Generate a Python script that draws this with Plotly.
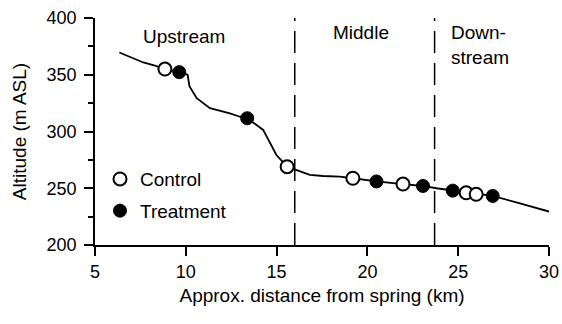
import plotly.graph_objects as go

# River profile (distance km, altitude m ASL)
profile_km = [6.34, 7.66, 8.3, 8.85, 9.64, 10.1, 10.2, 10.6, 11.33, 12.43, 12.98, 13.38,
              14.26, 14.63, 14.99, 15.58, 16.83, 17.56, 18.48, 19.2, 20.5, 21.96, 23.06,
              23.8, 24.7, 25.44, 25.99, 26.9, 28.4, 30.0]
profile_alt = [369.6, 360.8, 358, 355, 352.3, 350, 340, 329.4, 320.6, 316, 313, 311.7,
               301.4, 289.7, 279.3, 269, 261.7, 260.8, 260.2, 258.8, 256, 253.7, 252,
               250, 247.9, 246, 244.7, 243.2, 236.7, 229.5]

control_km = [8.85, 15.58, 19.2, 21.96, 25.44, 25.99]
control_alt = [355, 269, 258.8, 253.7, 246, 244.7]

treatment_km = [9.64, 13.38, 20.5, 23.06, 24.7, 26.9]
treatment_alt = [352.3, 311.7, 256, 252, 247.9, 243.2]

boundaries_km = [16.0, 23.7]
region_labels = ["Upstream", "Middle", "Down-<br>stream"]
region_label_km = [9.9, 19.63, 24.5]
region_label_alt = [384, 387, 376]

x_ticks = [5, 10, 15, 20, 25, 30]
y_ticks = [200, 250, 300, 350, 400]

FONT = "Liberation Sans, Arial, Helvetica, sans-serif"

fig = go.Figure()
fig.add_trace(go.Scatter(x=profile_km, y=profile_alt, mode="lines",
                         line=dict(color="black", width=1.8), showlegend=False,
                         hoverinfo="skip"))
fig.add_trace(go.Scatter(x=control_km, y=control_alt, mode="markers", name="Control",
                         legendgroup="c",
                         marker=dict(size=13, color="white",
                                     line=dict(color="black", width=2))))
fig.add_trace(go.Scatter(x=treatment_km, y=treatment_alt, mode="markers", name="Treatment",
                         legendgroup="t",
                         marker=dict(size=13, color="black",
                                     line=dict(color="black", width=1))))

for b in boundaries_km:
    fig.add_shape(type="line", xref="x", yref="y", x0=b, x1=b, y0=200, y1=400,
                  line=dict(color="black", width=1.5, dash="22px,10px"), layer="below")

for i, (t, xk, ya) in enumerate(zip(region_labels, region_label_km, region_label_alt)):
    fig.add_annotation(x=xk, y=ya, xref="x", yref="y", text=t, showarrow=False,
                       xanchor="left" if i == 2 else "center", yanchor="middle",
                       align="left", font=dict(size=19, color="black", family=FONT))

fig.update_layout(
    width=562, height=324,
    margin=dict(l=95, r=13, t=18, b=79),
    plot_bgcolor="white", paper_bgcolor="white",
    font=dict(family=FONT, size=18, color="black"),
    legend=dict(x=0.011, y=0.374, xanchor="left", yanchor="top",
                bgcolor="rgba(0,0,0,0)", font=dict(size=19),
                traceorder="grouped", tracegroupgap=4),
)
fig.update_xaxes(range=[5, 30], tickvals=x_ticks, showline=True, linecolor="black",
                 linewidth=1.5, ticks="outside", ticklen=9, tickwidth=1.5,
                 tickcolor="black", showgrid=False, zeroline=False, automargin=False,
                 ticklabelstandoff=1,
                 title=dict(text="Approx. distance from spring (km)",
                            font=dict(size=19), standoff=7))
fig.update_yaxes(range=[200, 400], tickvals=y_ticks, showline=True, linecolor="black",
                 linewidth=1.5, ticks="outside", ticklen=9, tickwidth=1.5,
                 tickcolor="black", showgrid=False, zeroline=False, automargin=False,
                 ticklabelstandoff=4,
                 minor=dict(dtick=25, ticks="outside", ticklen=5, tickwidth=1.5,
                            tickcolor="black", showgrid=False),
                 title=dict(text="Altitude (m ASL)", font=dict(size=19), standoff=15))

fig.write_html("out.html", config={"displayModeBar": False},
               post_script="document.body.style.margin='0';")
